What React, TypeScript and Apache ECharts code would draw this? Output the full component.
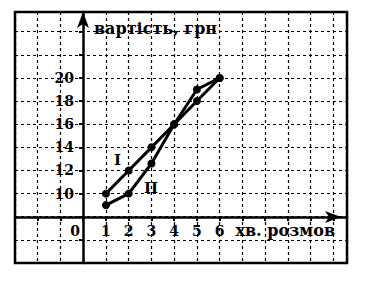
import React, { useEffect, useRef } from "react";
import * as echarts from "echarts";

const minutes = [1, 2, 3, 4, 5, 6];
const costI = [10, 12, 14, 16, 18, 20];
const costII = [9, 10, 12.6, 16, 19, 20];
const xTickLabels = ["0", "1", "2", "3", "4", "5", "6"];
const yTickLabels = [10, 12, 14, 16, 18, 20];
const yName = "вартість, грн";
const xName = "хв. розмов";
const seriesNames = ["I", "II"];

const FONT = "DejaVu Serif";

export default function App() {
  const ref = useRef<HTMLDivElement>(null);
  useEffect(() => {
    const chart = echarts.init(ref.current!, undefined, { renderer: "svg" });
    const mk = (vals: number[]) => minutes.map((m, i) => [m, vals[i]]);
    const lineStyle = { color: "#000", width: 3 };
    chart.setOption({
      animation: false,
      backgroundColor: "#fff",
      grid: {
        left: 15,
        right: 19,
        top: 12,
        bottom: 19,
        containLabel: false,
        outerBoundsMode: "none",
        show: true,
        borderColor: "#000",
        borderWidth: 2.5,
        backgroundColor: "transparent",
      },
      xAxis: {
        type: "value",
        min: -3,
        max: 11.6,
        interval: 1,
        offset: -46,
        axisLine: {
          show: true,
          onZero: false,
          lineStyle: { color: "#000", width: 2.5 },
          symbol: ["none", "arrow"],
          symbolSize: [9, 16],
          symbolOffset: [0, -6],
        },
        axisTick: { show: true, length: 4, lineStyle: { color: "#000", width: 2 } },
        axisLabel: {
          margin: 7,
          color: "#000",
          fontFamily: FONT,
          fontWeight: "bold",
          fontSize: 14,
          showMinLabel: false,
          showMaxLabel: false,
          formatter: (v: number) => {
            const s = String(v);
            if (v === 0) return "{o|0}";
            return xTickLabels.includes(s) ? s : "";
          },
          rich: {
            o: {
              fontFamily: FONT,
              fontSize: 14,
              color: "#000",
              padding: [0, 16, 0, 0],
            },
          },
        },
        splitLine: {
          show: true,
          lineStyle: { color: "#000", type: [3, 3], width: 1.2 },
        },
        name: xName,
        nameLocation: "end",
        nameGap: -12,
        nameTextStyle: {
          color: "#000",
          fontFamily: FONT,
          fontWeight: "bold",
          fontSize: 16,
          align: "right",
          verticalAlign: "top",
          padding: [5, 0, 0, 0],
        },
      },
      yAxis: {
        type: "value",
        min: 4,
        max: 25.7,
        interval: 2,
        offset: -68,
        axisLine: {
          show: true,
          onZero: false,
          lineStyle: { color: "#000", width: 2.5 },
          symbol: ["none", "arrow"],
          symbolSize: [9, 16],
        },
        axisTick: { show: true, length: 4, lineStyle: { color: "#000", width: 2 } },
        axisLabel: {
          margin: 9,
          color: "#000",
          fontFamily: FONT,
          fontWeight: "bold",
          fontSize: 14,
          showMaxLabel: false,
          formatter: (v: number) => (yTickLabels.includes(v) ? String(v) : ""),
        },
        splitLine: {
          show: true,
          lineStyle: { color: "#000", type: [3, 3], width: 1.2 },
        },
        name: yName,
        nameLocation: "end",
        nameGap: -8,
        nameTextStyle: {
          color: "#000",
          fontFamily: FONT,
          fontWeight: "bold",
          fontSize: 16,
          align: "left",
          verticalAlign: "top",
          padding: [0, 0, 0, 11],
        },
      },
      series: [
        {
          name: seriesNames[0],
          type: "line",
          data: mk(costI),
          symbol: "circle",
          symbolSize: 8,
          itemStyle: { color: "#000" },
          lineStyle,
        },
        {
          name: seriesNames[1],
          type: "line",
          data: mk(costII),
          symbol: "circle",
          symbolSize: 8,
          itemStyle: { color: "#000" },
          lineStyle,
        },
      ],
      graphic: [
        {
          type: "text",
          left: 114,
          top: 152,
          style: {
            text: seriesNames[0],
            fill: "#000",
            font: `bold 15px "${FONT}"`,
          },
        },
        {
          type: "text",
          left: 144,
          top: 180,
          style: {
            text: seriesNames[1],
            fill: "#000",
            font: `bold 15px "${FONT}"`,
          },
        },
      ],
    });
    return () => chart.dispose();
  }, []);
  return <div ref={ref} style={{ width: 366, height: 282, position: "absolute", left: 0, top: 0 }} />;
}
